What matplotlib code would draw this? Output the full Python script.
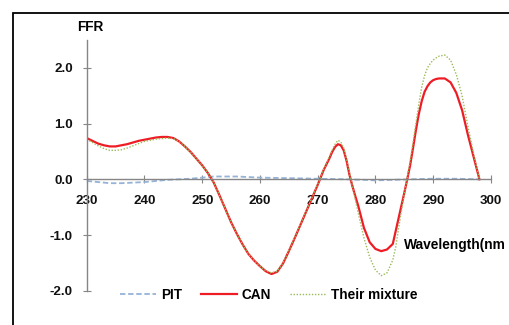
import matplotlib.pyplot as plt
from matplotlib.patches import Rectangle

plt.rcParams['font.family'] = ['Liberation Sans', 'DejaVu Sans']
plt.rcParams['font.weight'] = 'bold'
plt.rcParams['axes.unicode_minus'] = False

# first-derivative ratio spectra; 1 nm steps, half steps round the sharp bands
wavelength = [float(w) for w in range(230, 272)] + [
    272, 272.5, 273, 273.5, 274, 274.5, 275, 275.5, 276, 276.5, 277,
    278, 279, 280, 281, 282, 283,
    283.5, 284, 284.5, 285, 285.5, 286, 286.5, 287, 287.5, 288, 288.5,
    289, 289.5, 290, 290.5,
    291, 292, 293, 294, 295, 296, 297, 298]

can = [0.74, 0.69, 0.64, 0.61, 0.59, 0.59, 0.61, 0.63, 0.66, 0.69,
       0.71, 0.73, 0.75, 0.76, 0.76, 0.74, 0.68, 0.59, 0.49, 0.37,
       0.25, 0.11, -0.06, -0.29, -0.53, -0.77, -0.98, -1.17, -1.34, -1.46,
       -1.56, -1.65, -1.70, -1.66, -1.51, -1.29, -1.06, -0.82, -0.58, -0.34,
       -0.10, 0.16,
       0.37, 0.49, 0.58, 0.63, 0.61, 0.52, 0.33, 0.08, -0.12, -0.30, -0.47,
       -0.87, -1.13, -1.25, -1.29, -1.26, -1.16,
       -0.93, -0.70, -0.47, -0.24, 0.00, 0.25, 0.56, 0.88, 1.17, 1.40, 1.57,
       1.67, 1.74, 1.78, 1.80,
       1.81, 1.81, 1.74, 1.55, 1.24, 0.80, 0.40, 0.00]

mixture = [0.72, 0.66, 0.60, 0.55, 0.52, 0.52, 0.53, 0.56, 0.60, 0.64,
           0.68, 0.70, 0.72, 0.73, 0.74, 0.73, 0.68, 0.59, 0.49, 0.37,
           0.25, 0.11, -0.06, -0.29, -0.53, -0.77, -0.98, -1.17, -1.34, -1.46,
           -1.56, -1.64, -1.68, -1.65, -1.50, -1.28, -1.05, -0.81, -0.57, -0.33,
           -0.09, 0.17,
           0.40, 0.52, 0.63, 0.70, 0.67, 0.56, 0.36, 0.12, -0.12, -0.36, -0.60,
           -1.05, -1.40, -1.63, -1.73, -1.68, -1.45,
           -1.22, -0.88, -0.56, -0.25, 0.03, 0.32, 0.65, 1.00, 1.35, 1.65, 1.86,
           2.00, 2.08, 2.14, 2.18,
           2.21, 2.23, 2.14, 1.88, 1.50, 0.95, 0.45, 0.00]

pit_wl = [230, 232, 234, 236, 238, 240, 242, 244, 246, 248, 250, 252, 254,
          256, 258, 260, 265, 270, 275, 278, 280, 283, 286, 290, 294, 298]
pit = [-0.03, -0.05, -0.07, -0.07, -0.06, -0.05, -0.03, -0.01, 0.00, 0.01,
       0.03, 0.05, 0.05, 0.05, 0.04, 0.03, 0.02, 0.01, 0.00, -0.01,
       -0.02, -0.01, 0.00, 0.01, 0.01, 0.00]

x_ticks = [230, 240, 250, 260, 270, 280, 290, 300]
y_ticks = [-2.0, -1.0, 0.0, 1.0, 2.0]

fig = plt.figure(figsize=(5.09, 3.25), dpi=100)
ax = fig.add_axes([0.1703, 0.1055, 0.7943, 0.7714])

ax.plot(pit_wl, pit, color='#95B3D7', lw=1.3, ls=(0, (3, 1.5)), label='PIT')
ax.plot(wavelength, can, color='#EE1C25', lw=1.6, label='CAN')
ax.plot(wavelength, mixture, color='#9BBB59', lw=1.0, ls=(0, (1, 1.2)),
        label='Their mixture')

ax.set_xlim(230, 300)
ax.set_ylim(-2.0, 2.5)
ax.set_xticks(x_ticks)
ax.set_yticks(y_ticks)
ax.yaxis.set_major_formatter(plt.FormatStrFormatter('%.1f'))

for side in ['top', 'right']:
    ax.spines[side].set_visible(False)
ax.spines['bottom'].set_position(('data', 0))
ax.spines['bottom'].set_bounds(230, 300)
ax.spines['left'].set_bounds(-2.0, 2.5)
for side in ['bottom', 'left']:
    ax.spines[side].set_color('#868686')
    ax.spines[side].set_linewidth(1.0)

ax.tick_params(axis='both', direction='inout', length=6, width=0.8,
               color='#868686', labelsize=9.6, labelcolor='#111111')
ax.tick_params(axis='x', pad=8)
ax.tick_params(axis='y', pad=7)

fig.text(0.1513, 0.917, 'FFR', fontsize=9.8, va='center', ha='left')
fig.text(0.7937, 0.2462, 'Wavelength(nm', fontsize=9.9, va='center', ha='left')

ax.legend(loc='center', bbox_to_anchor=(0.5285, 0.0923),
          bbox_transform=fig.transFigure, ncol=3, frameon=False,
          fontsize=9.8, handlelength=2.6, handletextpad=0.4,
          columnspacing=1.4)

# outer frame around the chart
fig.patches.append(Rectangle((13 / 509, -0.2), 1.2, 1.2 - 13 / 325,
                             transform=fig.transFigure, fill=False,
                             edgecolor='black', lw=1.3))

fig.savefig('out.png', dpi=100)
